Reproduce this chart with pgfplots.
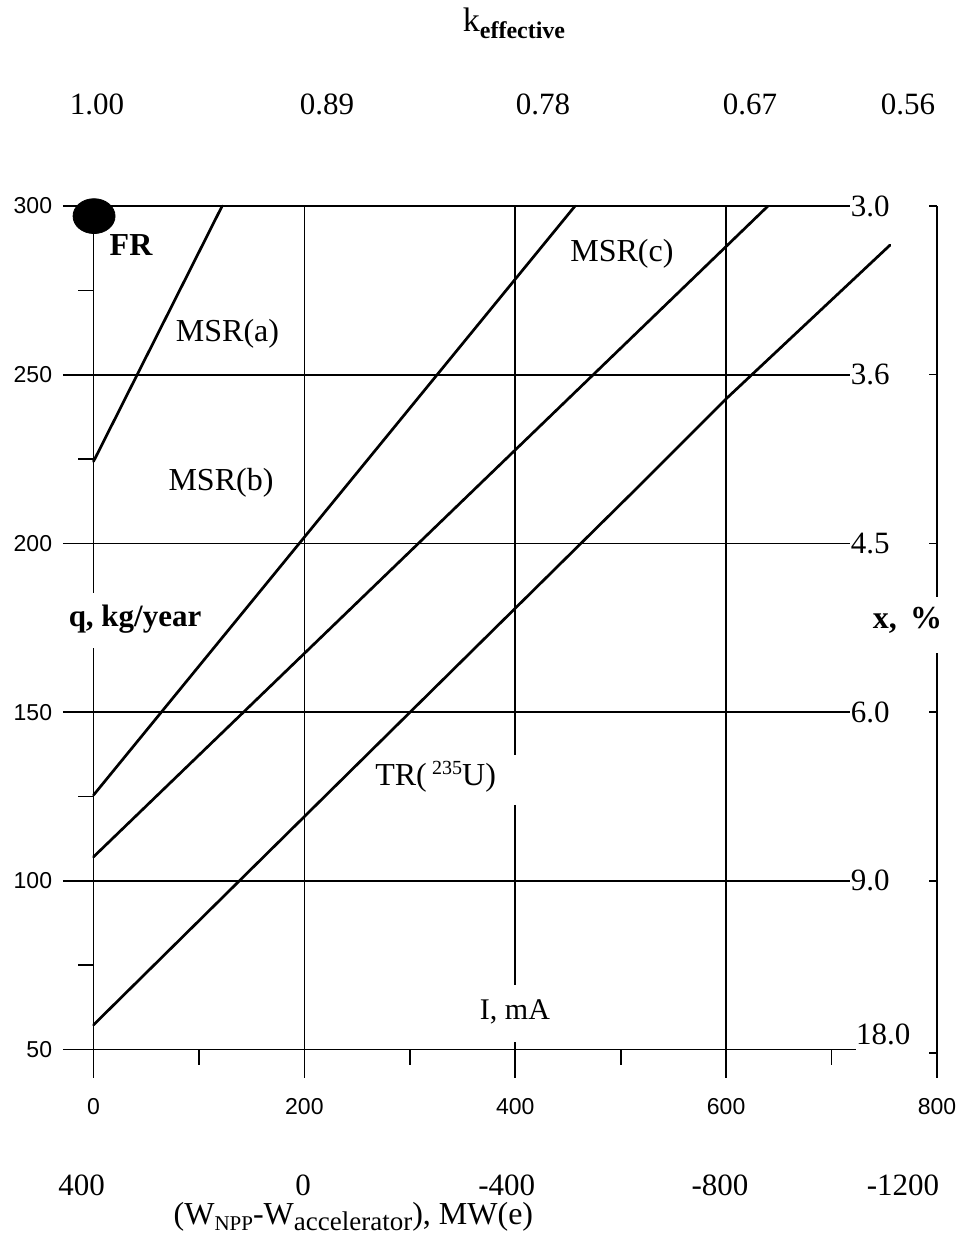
\documentclass[border=0pt]{standalone}
\usepackage{fontspec}
\setmainfont{Liberation Serif}
\newfontfamily\arial{Liberation Sans}
\usepackage{pgfplots}
\pgfplotsset{compat=1.18}
\begin{document}
\begin{tikzpicture}
\begin{axis}[
  scale only axis, width=421.75pt, height=421.75pt,
  xmin=0, xmax=800, ymin=50, ymax=300,
  clip=false,
  axis line style={draw=none},
  major tick length=0pt,
  tick style={draw=none},
  xtick={0,200,400,600,800}, xticklabels={0,200,400,600,800},
  ytick={50,100,150,200,250,300}, yticklabels={50,100,150,200,250,300},
  xticklabel style={font=\arial\fontsize{11.5}{13}\selectfont, anchor=center, yshift=-28.75pt},
  yticklabel style={font=\arial\fontsize{11.5}{13}\selectfont, anchor=east, xshift=-17.2pt},
]
% bounding box matching reference proportions
\path (axis cs:-88.7,361.06) rectangle (axis cs:822.7,-7.05);

% horizontal grid lines
\draw[line width=0.85pt] (axis cs:-29,300) -- (axis cs:717,300);
\draw[line width=0.85pt] (axis cs:-29,250) -- (axis cs:717,250);
\draw[line width=0.85pt] (axis cs:-29,200) -- (axis cs:717,200);
\draw[line width=0.85pt] (axis cs:-29,150) -- (axis cs:717,150);
\draw[line width=0.85pt] (axis cs:-29,100) -- (axis cs:717,100);
\draw[line width=0.85pt] (axis cs:-29,50) -- (axis cs:723,50);
% left minor ticks
\draw[line width=0.85pt] (axis cs:-14.7,275) -- (axis cs:0,275);
\draw[line width=0.85pt] (axis cs:-14.7,225) -- (axis cs:0,225);
\draw[line width=0.85pt] (axis cs:-14.7,125) -- (axis cs:0,125);
\draw[line width=0.85pt] (axis cs:-14.7,75) -- (axis cs:0,75);
% bottom minor ticks
\draw[line width=0.85pt] (axis cs:100,50) -- (axis cs:100,45.3);
\draw[line width=0.85pt] (axis cs:300,50) -- (axis cs:300,45.3);
\draw[line width=0.85pt] (axis cs:500,50) -- (axis cs:500,45.3);
\draw[line width=0.85pt] (axis cs:700,50) -- (axis cs:700,45.3);
% left axis with gap for label
\draw[line width=0.85pt] (axis cs:0,300) -- (axis cs:0,185.3);
\draw[line width=0.85pt] (axis cs:0,169.0) -- (axis cs:0,41.5);
% vertical grid lines
\draw[line width=0.85pt] (axis cs:200,300) -- (axis cs:200,41.5);
\draw[line width=0.85pt] (axis cs:400,300) -- (axis cs:400,137.3);
\draw[line width=0.85pt] (axis cs:400,122.5) -- (axis cs:400,69.1);
\draw[line width=0.85pt] (axis cs:400,52.2) -- (axis cs:400,41.5);
\draw[line width=0.85pt] (axis cs:600,300) -- (axis cs:600,41.5);
% right axis with gap and ticks
\draw[line width=0.7pt] (axis cs:800,300) -- (axis cs:800,184.1);
\draw[line width=0.7pt] (axis cs:800,167.5) -- (axis cs:800,41.5);
\draw[line width=0.7pt] (axis cs:792.4,300) -- (axis cs:800,300);
\draw[line width=0.7pt] (axis cs:792.4,250) -- (axis cs:800,250);
\draw[line width=0.7pt] (axis cs:792.4,200) -- (axis cs:800,200);
\draw[line width=0.7pt] (axis cs:792.4,150) -- (axis cs:800,150);
\draw[line width=0.7pt] (axis cs:792.4,100) -- (axis cs:800,100);
\draw[line width=0.7pt] (axis cs:792.4,49) -- (axis cs:800,49);

% data lines
\addplot[line width=1.35pt, line cap=round] coordinates {(0,224.3) (122,300)};
\addplot[line width=1.35pt, line cap=round] coordinates {(0,125.4) (456.7,300)};
\addplot[line width=1.35pt, line cap=round] coordinates {(0,107.1) (568.8,278.6) (639.7,300)};
\addplot[line width=1.35pt, line cap=round] coordinates {(0,57.3) (518.3,217.3) (600.5,243.0) (755.4,288.4)};
% FR point
\addplot[only marks, mark=*, mark size=10.5pt, mark options={yscale=0.83, fill=black, draw=black}] coordinates {(0.5,297.0)};

% labels
\node[font=\bfseries\fontsize{16}{18}\selectfont] at (axis cs:35.6,288.5) {FR};
\node[font=\fontsize{16}{18}\selectfont] at (axis cs:127.1,262.1) {MSR(a)};
\node[font=\fontsize{16}{18}\selectfont] at (axis cs:120.9,217.9) {MSR(b)};
\node[font=\fontsize{16}{18}\selectfont] at (axis cs:501.2,285.8) {MSR(c)};
\node[font=\fontsize{16}{18}\selectfont] at (axis cs:324.5,130.8) {TR(\,\raisebox{0.75ex}{\fontsize{10}{10}\selectfont 235}U)};
\node[font=\fontsize{15}{17}\selectfont] at (axis cs:399.7,61.1) {I, mA};
\node[font=\bfseries\fontsize{15.5}{17}\selectfont] at (axis cs:39.4,177.6) {q, kg/year};
\node[font=\bfseries\fontsize{16}{18}\selectfont] at (axis cs:772,177.3) {x, \,\%};

% right scale labels
\node[anchor=west, inner sep=0pt, font=\fontsize{15.5}{17}\selectfont] at (axis cs:718,300) {3.0};
\node[anchor=west, inner sep=0pt, font=\fontsize{15.5}{17}\selectfont] at (axis cs:718,250) {3.6};
\node[anchor=west, inner sep=0pt, font=\fontsize{15.5}{17}\selectfont] at (axis cs:718,200) {4.5};
\node[anchor=west, inner sep=0pt, font=\fontsize{15.5}{17}\selectfont] at (axis cs:718,150) {6.0};
\node[anchor=west, inner sep=0pt, font=\fontsize{15.5}{17}\selectfont] at (axis cs:718,100) {9.0};
\node[anchor=west, inner sep=0pt, font=\fontsize{15.5}{17}\selectfont] at (axis cs:723,54.5) {18.0};

% top k_effective scale
\node[font=\fontsize{17}{19}\selectfont] at (axis cs:398.8,354.2) {k\raisebox{-0.45ex}{\bfseries\fontsize{12}{12}\selectfont effective}};
\node[font=\fontsize{15.5}{17}\selectfont] at (axis cs:3.3,330.2) {1.00};
\node[font=\fontsize{15.5}{17}\selectfont] at (axis cs:221.4,330.2) {0.89};
\node[font=\fontsize{15.5}{17}\selectfont] at (axis cs:426.3,330.2) {0.78};
\node[font=\fontsize{15.5}{17}\selectfont] at (axis cs:622.6,330.2) {0.67};
\node[font=\fontsize{15.5}{17}\selectfont] at (axis cs:772.5,330.2) {0.56};

% bottom power scale
\node[inner sep=0pt, font=\fontsize{15.5}{17}\selectfont] at (axis cs:-11.2,9.6) {400};
\node[inner sep=0pt, font=\fontsize{15.5}{17}\selectfont] at (axis cs:198.7,9.6) {0};
\node[inner sep=0pt, font=\fontsize{15.5}{17}\selectfont] at (axis cs:391.9,9.6) {-400};
\node[inner sep=0pt, font=\fontsize{15.5}{17}\selectfont] at (axis cs:594.2,9.6) {-800};
\node[inner sep=0pt, font=\fontsize{15.5}{17}\selectfont] at (axis cs:767.7,9.6) {-1200};
\node[inner sep=0pt, font=\fontsize{16}{18}\selectfont] at (axis cs:246.5,0.3) {(W\raisebox{-0.35ex}{\fontsize{10.5}{11}\selectfont NPP}-W\raisebox{-0.35ex}{\fontsize{13.5}{14}\selectfont accelerator}), MW(e)};
\end{axis}
\end{tikzpicture}
\end{document}
